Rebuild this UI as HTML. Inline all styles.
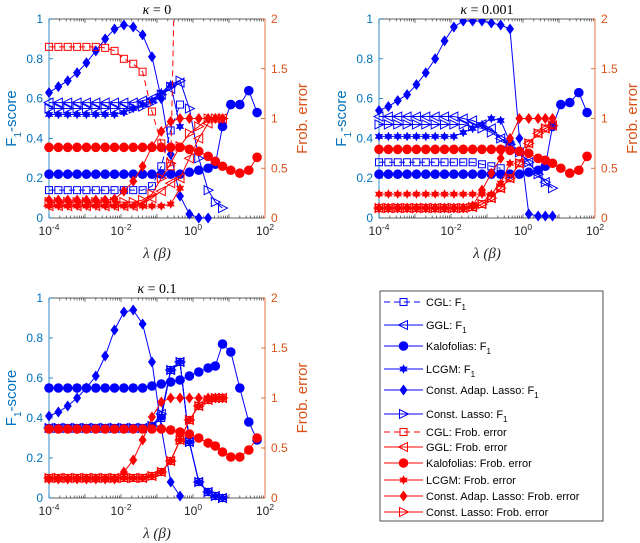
<!DOCTYPE html>
<html><head><meta charset="utf-8">
<style>
body{margin:0;background:#fff;}
svg{display:block;font-family:"Liberation Sans",sans-serif;}
</style></head>
<body>
<svg id="chart" width="640" height="543" viewBox="0 0 640 543"></svg>
<script>
// shared lambda grid exponents (log10 lambda)
const lamExp = [-4,-3.74,-3.48,-3.22,-2.96,-2.7,-2.44,-2.18,-1.92,-1.66,-1.4,-1.14,-0.88,-0.62,-0.36,-0.1,0.16,0.42,0.62,0.82,1.05,1.3,1.55,1.78,2];
const xTicks = [-4,-2,0,2];
const yLeftTicks = [0,0.2,0.4,0.6,0.8,1];
const yLeftLabels = ["0","0.2","0.4","0.6","0.8","1"];
const yRightTicks = [0,0.5,1,1.5,2];
const yRightLabels = ["0","0.5","1","1.5","2"];
const panelTitles = ["0","0.001","0.1"];

// ---- panel 1 (kappa = 0) ----
const p1_cgl_f1   = [.14,.14,.14,.14,.14,.14,.14,.14,.14,.14,.14,.16,.26,.44,.57];
const p1_ggl_f1   = [.58,.58,.58,.58,.58,.58,.58,.58,.58,.58,.59,.60,.62,.65,.68];
const p1_kal_f1   = [.22,.22,.22,.22,.22,.22,.22,.22,.22,.22,.22,.22,.22,.22,.22,.23,.24,.25,.27,.46,.57,.57,.64,.53];
const p1_lcgm_f1  = [.52,.52,.52,.52,.52,.52,.52,.52,.53,.55,.57,.59,.63,.67,.46];
const p1_cal_f1   = [.63,.66,.69,.73,.78,.84,.90,.95,.97,.96,.92,.81,.60,.32,.11,.02,0,0];
const p1_cl_f1    = [.55,.55,.55,.55,.55,.55,.55,.55,.55,.55,.56,.58,.62,.66,.69,.55,.30,.14,.08,.05];
const p1_cgl_fr   = [1.72,1.72,1.72,1.72,1.72,1.72,1.71,1.68,1.60,1.55,1.47,1.07,.75,.52,5];
const p1_ggl_fr   = [.12,.12,.12,.12,.12,.12,.12,.12,.12,.12,.14,.20,.27,.35,.40,.60,.80,.95,1.0,1.0];
const p1_kal_fr   = [.71,.71,.71,.71,.71,.71,.71,.71,.71,.71,.71,.71,.71,.71,.71,.69,.67,.62,.57,.52,.48,.45,.48,.61];
const p1_lcgm_fr  = [.12,.12,.12,.12,.12,.12,.12,.12,.12,.12,.12,.12,.12,.14,.30];
const p1_cal_fr   = [.18,.18,.18,.18,.18,.18,.18,.19,.27,.37,.52,.72,.87,.97,1.0,1.0,1.0,1.0,1.0,1.0];
const p1_cl_fr    = [.16,.16,.16,.16,.16,.16,.16,.16,.16,.16,.18,.24,.40,.55,.72,.85,.92,1.0,1.0,1.0];

// ---- panel 2 (kappa = 0.001) ----
const p2_cgl_f1   = [.28,.28,.28,.28,.28,.28,.28,.28,.28,.28,.28,.27,.26,.25];
const p2_ggl_f1   = [.51,.51,.51,.51,.51,.51,.51,.51,.51,.50,.49,.47,.45,.40,.36,.33,.28,.22,.18];
const p2_kal_f1   = [.22,.22,.22,.22,.22,.22,.22,.22,.22,.22,.22,.22,.22,.22,.22,.22,.23,.24,.26,.46,.57,.58,.63,.53];
const p2_lcgm_f1  = [.41,.41,.41,.41,.41,.41,.41,.41,.41,.43,.45,.47,.50,.49,.38];
const p2_cal_f1   = [.54,.56,.59,.62,.67,.73,.80,.89,.96,.99,.99,.99,.98,.97,.95,.40,.02,.01,.01,.01];
const p2_cl_f1    = [.47,.47,.47,.47,.47,.47,.47,.47,.47,.47,.46,.45,.43,.40,.37,.33,.28,.22,.18,.15];
const p2_cgl_fr   = [.10,.10,.10,.10,.10,.10,.10,.10,.10,.10,.11,.14,.20,.30,.40,.55,.75,.85,.90,.93];
const p2_ggl_fr   = [.10,.10,.10,.10,.10,.10,.10,.10,.10,.10,.11,.14,.20,.30,.40,.55,.75,.85,.90,.93];
const p2_kal_fr   = [.69,.69,.69,.69,.69,.69,.69,.69,.69,.69,.69,.69,.69,.69,.68,.67,.65,.60,.58,.55,.50,.45,.48,.62];
const p2_lcgm_fr  = [.24,.24,.24,.24,.24,.24,.24,.24,.24,.24,.24,.24,.24,.35,.55];
const p2_cal_fr   = [.10,.10,.10,.10,.10,.10,.10,.10,.10,.10,.12,.28,.45,.60,.80,1.0,1.0,1.0,1.0,1.0];
const p2_cl_fr    = [.10,.10,.10,.10,.10,.10,.10,.10,.10,.10,.11,.14,.20,.30,.40,.55,.75,.85,.90,.93];

// ---- panel 3 (kappa = 0.1) ----
const p3_cgl_f1   = [.35,.35,.35,.35,.35,.35,.35,.35,.35,.35,.35,.36,.40,.64,.68,.28,.08,.03,.01,0];
const p3_ggl_f1   = [.35,.35,.35,.35,.35,.35,.35,.35,.35,.35,.35,.36,.42,.64,.68,.28,.08,.03,.01,0];
const p3_kal_f1   = [.55,.55,.55,.55,.55,.55,.55,.55,.55,.55,.55,.56,.57,.58,.59,.61,.63,.65,.66,.77,.73,.55,.38,.29];
const p3_lcgm_f1  = [.35,.35,.35,.35,.35,.35,.35,.35,.35,.35,.35,.36,.40,.64,.68,.28,.08,.03,.01,0];
const p3_cal_f1   = [.41,.43,.46,.50,.55,.61,.71,.84,.93,.94,.87,.68,.35,.08,.01];
const p3_cl_f1    = [.35,.35,.35,.35,.35,.35,.35,.35,.35,.35,.35,.36,.42,.64,.68,.28,.08,.03,.01,0];
const p3_cgl_fr   = [.20,.20,.20,.20,.20,.20,.20,.20,.20,.20,.20,.22,.26,.37,.58,.78,.92,.98,1.0,1.0];
const p3_ggl_fr   = [.20,.20,.20,.20,.20,.20,.20,.20,.20,.20,.20,.22,.26,.37,.58,.78,.92,.98,1.0,1.0];
const p3_kal_fr   = [.69,.69,.69,.69,.69,.69,.69,.69,.69,.69,.69,.69,.69,.68,.66,.64,.60,.55,.52,.46,.41,.41,.48,.60];
const p3_lcgm_fr  = [.20,.20,.20,.20,.20,.20,.20,.20,.20,.20,.20,.22,.26,.37,.58,.78,.92,.98,1.0,1.0];
const p3_cal_fr   = [.19,.19,.19,.19,.19,.19,.19,.19,.26,.38,.58,.81,.96,1.0,1.0,1.0,1.0,1.0,1.0,1.0];
const p3_cl_fr    = [.20,.20,.20,.20,.20,.20,.20,.20,.20,.20,.20,.22,.26,.37,.58,.78,.92,.98,1.0,1.0];

const NS = "http://www.w3.org/2000/svg";
const svg = document.getElementById("chart");
function mk(tag, attrs, parent){
  const e = document.createElementNS(NS, tag);
  for (const k in attrs) e.setAttribute(k, attrs[k]);
  (parent||svg).appendChild(e);
  return e;
}
const BLUE = "#0000ff", RED = "#ff0000", LAX = "#0072bd", RAX = "#d95319";

function marker(g, type, x, y, col){
  let e;
  if (type === "circle") e = mk("circle",{cx:x,cy:y,r:4.8,fill:col},g);
  else if (type === "diamond") e = mk("polygon",{points:`${x},${y-5.5} ${x+4},${y} ${x},${y+5.5} ${x-4},${y}`,fill:col},g);
  else if (type === "square") e = mk("rect",{x:x-3.5,y:y-3.5,width:7,height:7,fill:"none",stroke:col,"stroke-width":1},g);
  else if (type === "ltri") e = mk("polygon",{points:`${x-5},${y} ${x+4},${y-4.5} ${x+4},${y+4.5}`,fill:"none",stroke:col,"stroke-width":1},g);
  else if (type === "rtri") e = mk("polygon",{points:`${x+5},${y} ${x-4},${y-4.5} ${x-4},${y+4.5}`,fill:"none",stroke:col,"stroke-width":1},g);
  else if (type === "star"){
    let p=[];
    for(let i=0;i<12;i++){const a=Math.PI/6*i-Math.PI/2;const r=i%2?2.6:4.8;p.push((x+r*Math.cos(a)).toFixed(1)+","+(y+r*Math.sin(a)).toFixed(1));}
    e = mk("polygon",{points:p.join(" "),fill:col},g);
  }
  
  
}

function panel(idx, L, R, T, B, series){
  const g = mk("g",{});
  
  
  const xs = e => L + (e + 4) / 6 * (R - L);
  const yl = v => B - v * (B - T);
  const yr = v => B - v / 2 * (B - T);
  const cid = "clip" + idx;
  const cp = mk("clipPath",{id:cid},g);
  mk("rect",{x:L-6,y:T,width:R-L+12,height:B-T+6},cp);
  mk("line",{x1:L,y1:T,x2:R,y2:T,stroke:"#262626","stroke-width":0.8},g);
  mk("line",{x1:L,y1:B,x2:R,y2:B,stroke:"#262626","stroke-width":0.8},g);
  for (let d=-4; d<2; d++){
    for (let m=1; m<10; m++){
      const xx = xs(d + Math.log10(m));
      const len = m===1?4:2.5;
      mk("line",{x1:xx,y1:B,x2:xx,y2:B-len,stroke:"#262626","stroke-width":0.6},g);
      mk("line",{x1:xx,y1:T,x2:xx,y2:T+len,stroke:"#262626","stroke-width":0.6},g);
    }
  }
  xTicks.forEach(t=>{
    const tx = mk("text",{x:xs(t),y:B+17,"text-anchor":"middle","font-size":12,fill:"#262626"},g);
    
    
    tx.textContent = "10";
    const s = mk("tspan",{dy:-5,"font-size":8.5},tx); s.textContent = String(t);
  });
  mk("line",{x1:L,y1:T,x2:L,y2:B,stroke:LAX,"stroke-width":0.8},g);
  yLeftTicks.forEach((t,i)=>{
    mk("line",{x1:L,y1:yl(t),x2:L+4,y2:yl(t),stroke:LAX,"stroke-width":0.8},g);
    const tx = mk("text",{x:L-6,y:yl(t)+4,"text-anchor":"end","font-size":12,fill:LAX},g);
    
    
    tx.textContent = yLeftLabels[i];
  });
  mk("line",{x1:R,y1:T,x2:R,y2:B,stroke:RAX,"stroke-width":0.8},g);
  yRightTicks.forEach((t,i)=>{
    mk("line",{x1:R,y1:yr(t),x2:R-4,y2:yr(t),stroke:RAX,"stroke-width":0.8},g);
    const tx = mk("text",{x:R+6,y:yr(t)+4,"text-anchor":"start","font-size":12,fill:RAX},g);
    
    
    tx.textContent = yRightLabels[i];
  });
  const cy = (T+B)/2;
  const yt = mk("text",{x:0,y:0,transform:`translate(${L-33},${cy}) rotate(-90)`,"text-anchor":"middle","font-size":15,fill:LAX},g);
  
  
  yt.textContent = "F";
  const sb = mk("tspan",{dy:5,"font-size":10},yt); sb.textContent="1";
  const sb2 = mk("tspan",{dy:-5},yt); sb2.textContent="-score";
  const yt2 = mk("text",{x:0,y:0,transform:`translate(${R+42},${cy}) rotate(-90)`,"text-anchor":"middle","font-size":15,fill:RAX},g);
  
  
  yt2.textContent = "Frob. error";
  const xt = mk("text",{x:(L+R)/2,y:B+40,"text-anchor":"middle","font-size":15,"font-family":"Liberation Serif, serif","font-style":"italic",fill:"#262626"},g);
  
  
  xt.textContent = "λ (β)";
  const tt = mk("text",{x:(L+R)/2,y:T-5,"text-anchor":"middle","font-size":14,"font-family":"Liberation Serif, serif",fill:"#000"},g);
  
  
  const ti = mk("tspan",{"font-style":"italic"},tt); ti.textContent = "κ";
  const tr = mk("tspan",{},tt); tr.textContent = " = " + panelTitles[idx];
  const sg = mk("g",{"clip-path":`url(#${cid})`},g);
  series.forEach(s=>{
    const ys = s.right ? yr : yl;
    const col = s.right ? RED : BLUE;
    const pts = s.vals.map((v,i)=>[xs(lamExp[i]), ys(v)]);
    const pl = mk("polyline",{points:pts.map(p=>p[0].toFixed(1)+","+p[1].toFixed(1)).join(" "),fill:"none",stroke:col,"stroke-width":1,"stroke-dasharray":s.dash?"6,4":"none"},sg);
    
    
    pts.forEach(p=>{ if (p[1] >= T-3) marker(sg, s.m, p[0], p[1], col); });
  });
}

function sset(a){ return [
  {name:"cgl-f1",vals:a[0],m:"square",dash:true},
  {name:"ggl-f1",vals:a[1],m:"ltri"},
  {name:"kalofolias-f1",vals:a[2],m:"circle"},
  {name:"lcgm-f1",vals:a[3],m:"star"},
  {name:"const-adap-lasso-f1",vals:a[4],m:"diamond"},
  {name:"const-lasso-f1",vals:a[5],m:"rtri"},
  {name:"cgl-frob",vals:a[6],m:"square",dash:true,right:true},
  {name:"ggl-frob",vals:a[7],m:"ltri",right:true},
  {name:"kalofolias-frob",vals:a[8],m:"circle",right:true},
  {name:"lcgm-frob",vals:a[9],m:"star",right:true},
  {name:"const-adap-lasso-frob",vals:a[10],m:"diamond",right:true},
  {name:"const-lasso-frob",vals:a[11],m:"rtri",right:true}
];}

panel(0,49,265,19,218,sset([p1_cgl_f1,p1_ggl_f1,p1_kal_f1,p1_lcgm_f1,p1_cal_f1,p1_cl_f1,p1_cgl_fr,p1_ggl_fr,p1_kal_fr,p1_lcgm_fr,p1_cal_fr,p1_cl_fr]));
panel(1,379,595,19,218,sset([p2_cgl_f1,p2_ggl_f1,p2_kal_f1,p2_lcgm_f1,p2_cal_f1,p2_cl_f1,p2_cgl_fr,p2_ggl_fr,p2_kal_fr,p2_lcgm_fr,p2_cal_fr,p2_cl_fr]));
panel(2,49,265,298,498,sset([p3_cgl_f1,p3_ggl_f1,p3_kal_f1,p3_lcgm_f1,p3_cal_f1,p3_cl_f1,p3_cgl_fr,p3_ggl_fr,p3_kal_fr,p3_lcgm_fr,p3_cal_fr,p3_cl_fr]));

const legendLabels = ["CGL: F","GGL: F","Kalofolias: F","LCGM: F","Const. Adap. Lasso: F","Const. Lasso: F",
  "CGL: Frob. error","GGL: Frob. error","Kalofolias: Frob. error","LCGM: Frob. error","Const. Adap. Lasso: Frob. error","Const. Lasso: Frob. error"];
const legendMarkers = ["square","ltri","circle","star","diamond","rtri","square","ltri","circle","star","diamond","rtri"];
const legendRows = [302,325,346,369,390,414,432,447,463,480,496,512];
const lg = mk("g",{});


mk("rect",{x:380,y:291,width:223,height:230,fill:"#fff",stroke:"#262626","stroke-width":0.8},lg);
legendLabels.forEach((lab,i)=>{
  const y = legendRows[i];
  const col = i<6?BLUE:RED;
  const dash = (i===0||i===6);
  const ent = mk("g",{},lg);
  
  
  mk("line",{x1:384,y1:y,x2:423,y2:y,stroke:col,"stroke-width":1,"stroke-dasharray":dash?"6,4":"none"},ent);
  marker(ent, legendMarkers[i], 403.5, y, col);
  const tx = mk("text",{x:426,y:y+4,"font-size":11,fill:"#000"},ent);
  tx.textContent = lab;
  if (i<6){ const s = mk("tspan",{dy:4,"font-size":8},tx); s.textContent="1"; }
});
</script>
</body></html>
